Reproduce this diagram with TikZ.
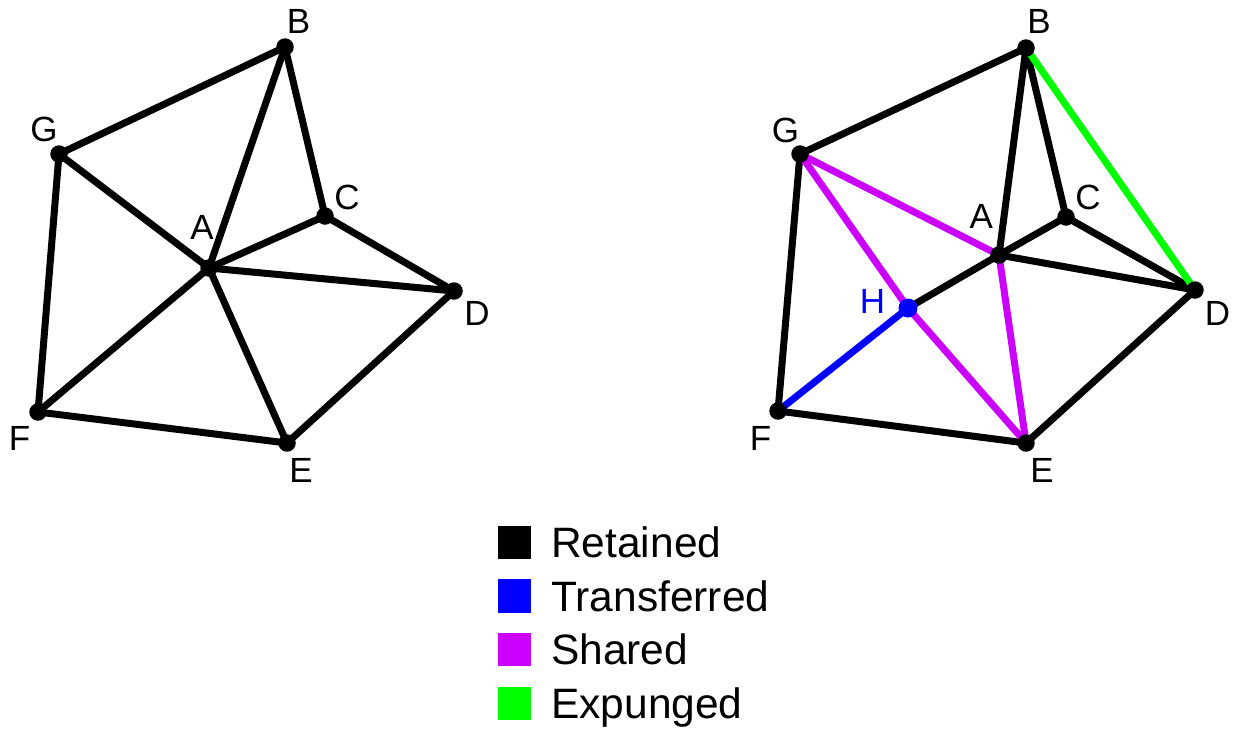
\documentclass[tikz,border=0pt]{standalone}
\usepackage{fontspec}
\setmainfont{Liberation Sans}
\definecolor{retained}{RGB}{0,0,0}
\definecolor{transferred}{RGB}{0,0,255}
\definecolor{shared}{RGB}{204,0,255}
\definecolor{expunged}{RGB}{0,255,0}
\tikzset{
  edge/.style={line width=7pt, line cap=round},
  vertex/.style={circle, fill=black, inner sep=0pt, minimum size=17.5pt},
  hvertex/.style={circle, fill=transferred, inner sep=0pt, minimum size=19pt},
  vlabel/.style={inner sep=0pt, font=\fontsize{35}{42}\selectfont},
  legbox/.style={inner sep=0pt, minimum size=33.4pt, anchor=south west},
  legtext/.style={inner sep=0pt, anchor=base west, font=\fontsize{42.5}{50}\selectfont}
}
\begin{document}
\begin{tikzpicture}[x=1pt,y=-1pt]
\useasboundingbox (0,0) rectangle (1238,729);

% ---------- original mesh ----------
\coordinate (lA) at (209,268);
\coordinate (lB) at (285,47);
\coordinate (lC) at (325,216);
\coordinate (lD) at (454,291);
\coordinate (lE) at (287,443);
\coordinate (lF) at (38,412);
\coordinate (lG) at (59,154);

\draw[edge] (lG) -- (lB);
\draw[edge] (lB) -- (lA);
\draw[edge] (lB) -- (lC);
\draw[edge] (lG) -- (lA);
\draw[edge] (lG) -- (lF);
\draw[edge] (lA) -- (lC);
\draw[edge] (lC) -- (lD);
\draw[edge] (lA) -- (lD);
\draw[edge] (lA) -- (lF);
\draw[edge] (lA) -- (lE);
\draw[edge] (lF) -- (lE);
\draw[edge] (lE) -- (lD);

\foreach \v in {A,B,C,D,E,F,G} \node[vertex] (dl\v) at (l\v) {};

\node[vlabel] (tlA) at (202,227.5) {A};
\node[vlabel] (tlB) at (298.5,21.5) {B};
\node[vlabel] (tlC) at (347,197.5) {C};
\node[vlabel] (tlD) at (477,313.5) {D};
\node[vlabel] (tlE) at (301,470) {E};
\node[vlabel] (tlF) at (19.5,438) {F};
\node[vlabel] (tlG) at (44,129.5) {G};

% ---------- mesh after the collapse ----------
\coordinate (rA) at (999,255);
\coordinate (rB) at (1026,48);
\coordinate (rC) at (1066,217);
\coordinate (rD) at (1195,290);
\coordinate (rE) at (1026,443);
\coordinate (rF) at (778,411);
\coordinate (rG) at (800,154);
\coordinate (rH) at (908,308);

\draw[edge] (rG) -- (rB);
\draw[edge] (rB) -- (rA);
\draw[edge] (rB) -- (rC);
\draw[edge] (rG) -- (rF);
\draw[edge] (rA) -- (rC);
\draw[edge] (rC) -- (rD);
\draw[edge] (rA) -- (rD);
\draw[edge] (rA) -- (rH);
\draw[edge] (rF) -- (rE);
\draw[edge] (rE) -- (rD);
\draw[edge, expunged] (rB) -- (rD);
\draw[edge, transferred] (rH) -- (rF);
\draw[edge, shared] (rG) -- (rA);
\draw[edge, shared] (rG) -- (rH);
\draw[edge, shared] (rH) -- (rE);
\draw[edge, shared] (rA) -- (rE);

\foreach \v in {A,B,C,D,E,F,G} \node[vertex] (dr\v) at (r\v) {};
\node[hvertex] (drH) at (rH) {};

\node[vlabel] (trA) at (981.3,216) {A};
\node[vlabel] (trB) at (1039,21.5) {B};
\node[vlabel] (trC) at (1088,197.5) {C};
\node[vlabel] (trD) at (1217.6,313.5) {D};
\node[vlabel] (trE) at (1042,470) {E};
\node[vlabel] (trF) at (760.5,438) {F};
\node[vlabel] (trG) at (785.5,130) {G};
\node[vlabel, text=transferred] (trH) at (872.5,301) {H};

% ---------- legend ----------
\node[legbox, fill=retained]    (k1) at (497.3,559.1) {};
\node[legbox, fill=transferred] (k2) at (497.3,612.7) {};
\node[legbox, fill=shared]      (k3) at (497.3,666.1) {};
\node[legbox, fill=expunged]    (k4) at (497.3,720.1) {};
\node[legtext] (l1) at (551,557.7) {Retained};
\node[legtext] (l2) at (551,611.2) {Transferred};
\node[legtext] (l3) at (551,664.6) {Shared};
\node[legtext] (l4) at (551,718.2) {Expunged};
\end{tikzpicture}
\end{document}
